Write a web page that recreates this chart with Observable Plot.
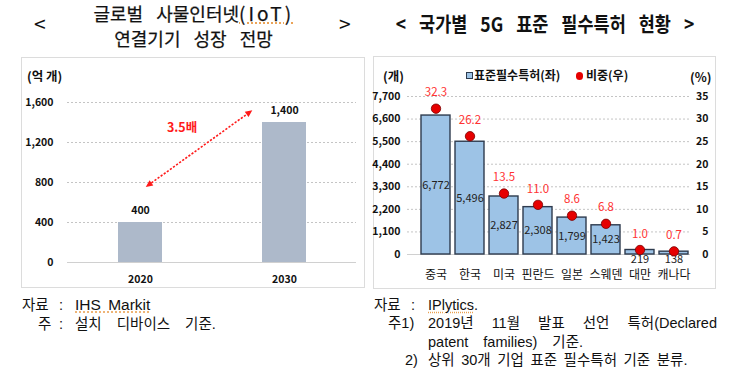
<!DOCTYPE html>
<html><head><meta charset="utf-8">
<script src="https://cdn.jsdelivr.net/npm/d3@7"></script>
<script src="https://cdn.jsdelivr.net/npm/@observablehq/plot@0.6"></script>
<style>
body{margin:0;background:#fff;}
#root{position:relative;width:750px;height:379px;overflow:hidden;font-family:"Noto Sans CJK KR",sans-serif;color:#111;}
.abs{position:absolute;white-space:nowrap;}
.panel{position:absolute;border:1px solid #dcdcdc;box-sizing:border-box;}
.t17{font-size:18px;line-height:25px;}
.br{font-size:21px;line-height:25px;}
.foot{font-family:"Liberation Sans","Noto Sans CJK KR",sans-serif;font-size:14.5px;line-height:18px;color:#111;}
.sq{text-decoration:underline dotted #eaa050;text-underline-offset:2px;}
.unit{font-size:12.5px;line-height:16px;font-weight:bold;}
.leg{font-size:12px;line-height:16px;font-weight:bold;}
.chart{position:absolute;}
</style></head><body><div id="root">
<div class="panel" style="left:21px;top:57px;width:344px;height:231px"></div>
<div class="panel" style="left:373px;top:56px;width:343px;height:233px"></div>

<div class="abs br" style="left:34px;top:11px">&lt;</div>
<div class="abs br" style="left:339px;top:11px">&gt;</div>
<div class="abs t17" style="left:93.5px;top:-0.5px;width:200px;text-align:center;word-spacing:9px;-webkit-text-stroke:0.25px #111">
  <div>글로벌 사물인터넷<span class="sq" style="font-size:19px;letter-spacing:3px">(IoT)</span></div>
  <div>연결기기 성장 전망</div>
</div>
<div class="abs" style="left:345px;top:10.7px;width:400px;text-align:center;font-size:17.5px;line-height:25px;font-weight:bold;word-spacing:9px;transform:scaleY(1.15)">&lt; 국가별 5G 표준 필수특허 현황 &gt;</div>

<div class="abs unit" style="left:27px;top:67.7px">(억 개)</div>
<div class="abs unit" style="left:383px;top:67.7px">(개)</div>
<div class="abs unit" style="left:690px;top:68.7px">(%)</div>

<div class="abs" style="left:466px;top:72px;width:7px;height:7px;background:#9dc3e6;border:1px solid #2e3b4e;box-sizing:border-box"></div>
<div class="abs leg" style="left:474px;top:66.5px">표준필수특허(좌)</div>
<div class="abs" style="left:575.5px;top:72px;width:7.5px;height:7.5px;border-radius:50%;background:#e60000"></div>
<div class="abs leg" style="left:586px;top:66.5px">비중(우)</div>

<div class="abs foot" style="left:22px;top:296px">자료</div>
<div class="abs foot" style="left:59px;top:296px">:</div>
<div class="abs foot" style="left:75px;top:296px;font-size:15.5px;word-spacing:3px"><span class="sq">IHS Markit</span></div>
<div class="abs foot" style="left:38px;top:314.5px">주</div>
<div class="abs foot" style="left:59px;top:314.5px">:</div>
<div class="abs foot" style="left:75px;top:314.5px;word-spacing:11px">설치 디바이스 기준.</div>

<div class="abs foot" style="left:374px;top:296px">자료</div>
<div class="abs foot" style="left:411px;top:296px">:</div>
<div class="abs foot" style="left:428px;top:296px"><span class="sq">IPlytics</span>.</div>
<div class="abs foot" style="left:388px;top:314px">주1)</div>
<div class="abs foot" style="left:428px;top:314px;word-spacing:14px">2019년 11월 발표 선언 특허(Declared</div>
<div class="abs foot" style="left:428px;top:332.5px;word-spacing:11px">patent families) 기준.</div>
<div class="abs foot" style="left:405px;top:351px">2)</div>
<div class="abs foot" style="left:428px;top:351px;word-spacing:2.5px">상위 30개 기업 표준 필수특허 기준 분류.</div>
</div>
<script>
// ---- Left chart data ----
const iotYears = ["2020", "2030"];
const iotValues = [400, 1400];
const iotTicks = [0, 400, 800, 1200, 1600];
const iotGrowthLabel = "3.5배";

// ---- Right chart data ----
const countries = ["중국", "한국", "미국", "핀란드", "일본", "스웨덴", "대만", "캐나다"];
const patents = [6772, 5496, 2827, 2308, 1799, 1423, 219, 138];
const shares = [32.3, 26.2, 13.5, 11.0, 8.6, 6.8, 1.0, 0.7];
const patentTicks = [0, 1100, 2200, 3300, 4400, 5500, 6600, 7700];
const shareTicks = [0, 5, 10, 15, 20, 25, 30, 35];

const iotRows = iotYears.map((year, i) => ({year, value: iotValues[i]}));
const rows = countries.map((country, i) => ({country, patents: patents[i], share: shares[i]}));
const SCALE = patentTicks[patentTicks.length - 1] / shareTicks[shareTicks.length - 1];
const fmt = d3.format(",");
const style = {fontFamily: "'Noto Sans CJK KR', sans-serif", background: "transparent", overflow: "visible", color: "#111"};

function growthArrow(index, scales) {
  const {x, y} = scales;
  const bw = typeof x.bandwidth === "function" ? x.bandwidth() : 0;
  const c0 = x(iotYears[0]) + bw / 2, c1 = x(iotYears[1]) + bw / 2, step = c1 - c0;
  const x0 = c0 + 0.04 * step, y0 = y(750), x1 = c1 - 0.22 * step, y1 = y(1517);
  const g = d3.create("svg:g");
  const ang = Math.atan2(y1 - y0, x1 - x0), ca = Math.cos(ang), sa = Math.sin(ang);
  const hl = 7, hw = 3.2;
  g.append("line")
    .attr("x1", x0 + ca * hl).attr("y1", y0 + sa * hl)
    .attr("x2", x1 - ca * hl).attr("y2", y1 - sa * hl)
    .attr("stroke", "#ff1a1a").attr("stroke-width", 1.6).attr("stroke-dasharray", "2.2,1.6");
  const head = (tx, ty, dir) => {
    const bx = tx - dir * ca * hl, by = ty - dir * sa * hl;
    return `M${tx},${ty}L${bx - sa * hw},${by + ca * hw}L${bx + sa * hw},${by - ca * hw}Z`;
  };
  g.append("path").attr("d", head(x1, y1, 1) + head(x0, y0, -1)).attr("fill", "#ff1a1a");
  g.append("text")
    .attr("x", (x0 + x1) / 2 - 17).attr("y", (y0 + y1) / 2 - 21.5)
    .attr("text-anchor", "middle").attr("dy", "0.35em")
    .attr("font-size", 12.5).attr("font-weight", "bold").attr("fill", "#ff1a1a")
    .text(iotGrowthLabel);
  return g.node();
}

const left = Plot.plot({
  width: 344, height: 231,
  marginLeft: 46, marginRight: 9, marginTop: 45, marginBottom: 26,
  x: {domain: iotYears, paddingInner: 0.695, paddingOuter: 0.3475},
  y: {domain: [0, 1600]},
  style,
  marks: [
    Plot.gridY(iotTicks.filter(d => d > 0), {stroke: "#c4c4c4", strokeOpacity: 1, strokeDasharray: "2,2"}),
    Plot.ruleY([0], {stroke: "#d0d0d0", strokeWidth: 1.2}),
    Plot.barY(iotRows, {x: "year", y: "value", fill: "#adb9ca"}),
    Plot.text(iotRows, {x: "year", y: "value", text: d => fmt(d.value), dy: -12, fontSize: 10.5, fontWeight: "bold", fill: "#111"}),
    Plot.axisY(iotTicks, {tickSize: 0, tickPadding: 14, tickFormat: fmt, fontSize: 10.5, fontWeight: "bold", label: null}),
    Plot.axisX({tickSize: 0, tickPadding: 13, fontSize: 10.5, fontWeight: "bold", label: null}),
    growthArrow
  ]
});
left.classList.add("chart");
left.style.left = "21px"; left.style.top = "57px"; left.style.position = "absolute";

const right = Plot.plot({
  width: 343, height: 233,
  marginLeft: 34, marginRight: 26, marginTop: 40, marginBottom: 35,
  x: {domain: countries, paddingInner: 0.16, paddingOuter: 0.173, align: 0.83},
  y: {domain: [0, 7700]},
  style,
  marks: [
    Plot.gridY(patentTicks.filter(d => d > 0), {stroke: "#c4c4c4", strokeOpacity: 1, strokeDasharray: "2,2"}),
    Plot.ruleY([0], {stroke: "#d0d0d0"}),
    Plot.barY(rows, {x: "country", y: "patents", fill: "#9dc3e6", stroke: "#2e3b4e", strokeWidth: 1.4}),
    Plot.text(rows.filter(d => d.patents >= 1000), {x: "country", y: d => d.patents / 2, text: d => fmt(d.patents), fontSize: 11, fill: "#222"}),
    Plot.text(rows.filter(d => d.patents < 1000), {x: "country", y: () => 0, text: d => fmt(d.patents), dy: 4.5, fontSize: 11, fill: "#222"}),
    Plot.dot(rows, {x: "country", y: d => d.share * SCALE, r: 4.7, fill: "#e60000", stroke: "#7a0000", strokeWidth: 0.8}),
    Plot.text(rows, {x: "country", y: d => d.share * SCALE, text: d => d.share.toFixed(1), dy: -16, fontSize: 11.5, fill: "#ff3333"}),
    Plot.axisY(patentTicks, {anchor: "left", tickSize: 0, tickPadding: 7, tickFormat: fmt, fontSize: 10.5, fontWeight: "bold", label: null}),
    Plot.axisY(shareTicks.map(s => s * SCALE), {anchor: "right", tickSize: 0, tickPadding: 18, textAnchor: "end", tickFormat: d => String(Math.round(d / SCALE)), fontSize: 10.5, fontWeight: "bold", label: null}),
    Plot.axisX({tickSize: 0, tickPadding: 16, fontSize: 12, label: null})
  ]
});
right.classList.add("chart");
right.style.left = "373px"; right.style.top = "56px"; right.style.position = "absolute";

const root = document.getElementById("root");
root.appendChild(left);
root.appendChild(right);
</script>
</body></html>
